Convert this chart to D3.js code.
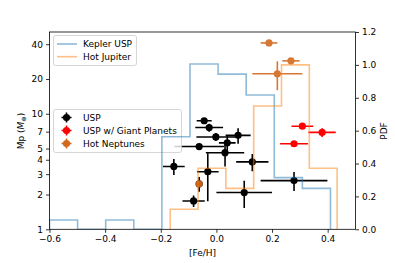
<!DOCTYPE html>
<html>
<head>
<meta charset="utf-8">
<script src="https://cdn.jsdelivr.net/npm/d3@7"></script>
<style>
body{margin:0;background:#fff;}
text{font-family:"DejaVu Sans",sans-serif;font-size:9px;fill:#000;}
</style>
</head>
<body>
<svg id="chart" width="395" height="263"></svg>
<script>
// USP planets
var uspFeH = [-0.044, -0.026, -0.002, 0.078, 0.039, -0.062, 0.031, -0.153, -0.031, -0.062, -0.082, 0.100, 0.129, 0.279];
var uspMass = [8.7, 7.6, 6.3, 6.5, 5.6, 5.2, 4.6, 3.5, 3.15, 2.47, 1.76, 2.08, 3.83, 2.64];
var uspFeHErr = [0.027, 0.05, 0.07, 0.045, 0.03, 0.089, 0.069, 0.039, 0.039, 0.01, 0.04, 0.10, 0.058, 0.12];
var uspMassErr = [0.4, 0.6, 0.5, 1.0, 0.8, 0.3, 1.1, 0.55, 1.4, 0.36, 0.2, 0.55, 0.65, 0.5];
// USP w/ giant planets
var giantFeH = [0.309, 0.380, 0.279];
var giantMass = [7.8, 6.9, 5.5];
var giantFeHErr = [0.039, 0.049, 0.05];
var giantMassErr = [0.3, 0.6, 0.3];
// hot neptunes
var nepFeH = [0.189, 0.268, 0.219, -0.062];
var nepMass = [41, 28.7, 22.2, 2.47];
var nepFeHErr = [0.03, 0.031, 0.09, 0.0];
var nepMassErr = [1.5, 1.5, 6.2, 0.0];
// histograms (PDF)
var keplerEdges = [-0.6, -0.499, -0.398, -0.297, -0.196, -0.095, 0.006, 0.107, 0.208, 0.309, 0.41];
var keplerPdf = [0.057, 0, 0.057, 0, 0.563, 1.005, 0.944, 0.817, 0.314, 0.249];
var hjEdges = [-0.166, -0.066, 0.034, 0.134, 0.234, 0.334, 0.434];
var hjPdf = [0.122, 0.371, 0.249, 0.75, 1.0, 0.371];

var massTicks = [1, 2, 3, 4, 5, 7, 10, 20, 40];
var fehTicks = [-0.6, -0.4, -0.2, 0.0, 0.2, 0.4];
var pdfTicks = [0, 0.2, 0.4, 0.6, 0.8, 1.0, 1.2];

var svg = d3.select("#chart");
var mLeft = 49.5, mRight = 355.5, mTop = 32, mBottom = 229.3;

var x = d3.scaleLinear().domain([-0.6, 0.5]).range([mLeft, mRight]);
var y = d3.scaleLog().domain([1, 51]).range([mBottom, mTop]);
var y2 = d3.scaleLinear().domain([0, 1.2]).range([mBottom, mTop]);

var fmt1 = d3.format(".1f");

svg.append("defs").append("clipPath").attr("id", "plot")
	.append("rect").attr("x", mLeft).attr("y", mTop).attr("width", mRight - mLeft).attr("height", mBottom - mTop);

function drawErr(g, fx, fy, fxe, fye, color){
	var data = fx.map(function(d, i){
		return {x: d, y: fy[i], xe: fxe[i], ye: fye[i]};
	});
	var grp = g.append("g");
	grp.selectAll("line.xe").data(data.filter(function(d){ return d.xe > 0; })).enter().append("line")
		.attr("x1", function(d){ return x(d.x - d.xe); })
		.attr("x2", function(d){ return x(d.x + d.xe); })
		.attr("y1", function(d){ return y(d.y); })
		.attr("y2", function(d){ return y(d.y); })
		.attr("stroke", color).attr("stroke-width", 1.6);
	grp.selectAll("line.ye").data(data.filter(function(d){ return d.ye > 0; })).enter().append("line")
		.attr("x1", function(d){ return x(d.x); })
		.attr("x2", function(d){ return x(d.x); })
		.attr("y1", function(d){ return y(d.y - d.ye); })
		.attr("y2", function(d){ return y(d.y + d.ye); })
		.attr("stroke", color).attr("stroke-width", 1.6);
	grp.selectAll("circle").data(data).enter().append("circle")
		.attr("cx", function(d){ return x(d.x); })
		.attr("cy", function(d){ return y(d.y); })
		.attr("r", 3.6)
		.attr("fill", color);
	return grp;
}

var plot = svg.append("g").attr("clip-path", "url(#plot)");
drawErr(plot, uspFeH, uspMass, uspFeHErr, uspMassErr, "#000");
drawErr(plot, giantFeH, giantMass, giantFeHErr, giantMassErr, "red");
drawErr(plot, nepFeH, nepMass, nepFeHErr, nepMassErr, "#d2691e").attr("opacity", 0.9);

// legend for points (main axes)
var leg2 = svg.append("g");
leg2.append("rect").attr("x", 53.5).attr("y", 109.5).attr("width", 128).attr("height", 43)
	.attr("rx", 2).attr("fill", "#fff").attr("fill-opacity", 0.8).attr("stroke", "#ccc").attr("stroke-width", 0.8);
var leg2Items = [["USP", "#000"], ["USP w/ Giant Planets", "red"], ["Hot Neptunes", "#d2691e"]];
leg2Items.forEach(function(it, i){
	var cy = 117.5 + i * 13;
	leg2.append("line").attr("x1", 61.5).attr("x2", 71.5).attr("y1", cy).attr("y2", cy).attr("stroke", it[1]).attr("stroke-width", 1.6);
	leg2.append("line").attr("x1", 66.5).attr("x2", 66.5).attr("y1", cy - 5).attr("y2", cy + 5).attr("stroke", it[1]).attr("stroke-width", 1.6);
	leg2.append("circle").attr("cx", 66.5).attr("cy", cy).attr("r", 3.6).attr("fill", it[1]);
	leg2.append("text").attr("x", 83).attr("y", cy + 3.3).text(it[0]);
});

// histograms on twin axis
function stepPath(edges, vals){
	var p = d3.path();
	p.moveTo(x(edges[0]), y2(0));
	vals.forEach(function(v, i){
		p.lineTo(x(edges[i]), y2(v));
		p.lineTo(x(edges[i + 1]), y2(v));
	});
	p.lineTo(x(edges[edges.length - 1]), y2(0));
	return p.toString();
}
var hist = svg.append("g").attr("clip-path", "url(#plot)");
hist.append("path").attr("d", stepPath(keplerEdges, keplerPdf))
	.attr("fill", "none").attr("stroke", "#1f77b4").attr("stroke-opacity", 0.5).attr("stroke-width", 1.6);
hist.append("path").attr("d", stepPath(hjEdges, hjPdf))
	.attr("fill", "none").attr("stroke", "#ff7f0e").attr("stroke-opacity", 0.5).attr("stroke-width", 1.6);

// axes
var xAxis = svg.append("g").attr("transform", "translate(0," + mBottom + ")")
	.call(d3.axisBottom(x).tickValues(fehTicks).tickFormat(fmt1).tickSizeOuter(0).tickSize(3.5).tickPadding(3));
var yAxis = svg.append("g").attr("transform", "translate(" + mLeft + ",0)")
	.call(d3.axisLeft(y).tickValues(massTicks).tickFormat(d3.format("d")).tickSizeOuter(0).tickSize(3.5).tickPadding(3));
var y2Axis = svg.append("g").attr("transform", "translate(" + mRight + ",0)")
	.call(d3.axisRight(y2).tickValues(pdfTicks).tickFormat(fmt1).tickSizeOuter(0).tickSize(3.5).tickPadding(3));
[xAxis, yAxis, y2Axis].forEach(function(a){
	a.selectAll("text").attr("font-size", 9).attr("font-family", "DejaVu Sans").attr("fill", "#000");
	a.selectAll("line").attr("stroke", "#000").attr("stroke-width", 0.8);
	a.select(".domain").remove();
});
svg.append("rect").attr("x", mLeft).attr("y", mTop).attr("width", mRight - mLeft).attr("height", mBottom - mTop)
	.attr("fill", "none").attr("stroke", "#000").attr("stroke-width", 0.8);

// legend for histograms
var leg1 = svg.append("g");
leg1.append("rect").attr("x", 53.5).attr("y", 35.5).attr("width", 83).attr("height", 30)
	.attr("rx", 2).attr("fill", "#fff").attr("fill-opacity", 0.8).attr("stroke", "#ccc").attr("stroke-width", 0.8);
var leg1Items = [["Kepler USP", "#1f77b4"], ["Hot Jupiter", "#ff7f0e"]];
leg1Items.forEach(function(it, i){
	var cy = 44 + i * 12.7;
	leg1.append("line").attr("x1", 57).attr("x2", 77).attr("y1", cy).attr("y2", cy)
		.attr("stroke", it[1]).attr("stroke-opacity", 0.5).attr("stroke-width", 1.6);
	leg1.append("text").attr("x", 83).attr("y", cy + 3.3).text(it[0]);
});

// axis labels
svg.append("text").attr("x", (mLeft + mRight) / 2).attr("y", 256).attr("text-anchor", "middle").text("[Fe/H]");
var yl = svg.append("text").attr("transform", "translate(24,131) rotate(-90)").attr("text-anchor", "middle");
yl.append("tspan").text("Mp (");
yl.append("tspan").attr("font-style", "italic").text("M");
yl.append("tspan").attr("font-size", 6.5).attr("dy", 2).text("⊕");
yl.append("tspan").attr("dy", -2).text(")");
svg.append("text").attr("transform", "translate(387,131) rotate(-90)").attr("text-anchor", "middle").text("PDF");
</script>
</body>
</html>
